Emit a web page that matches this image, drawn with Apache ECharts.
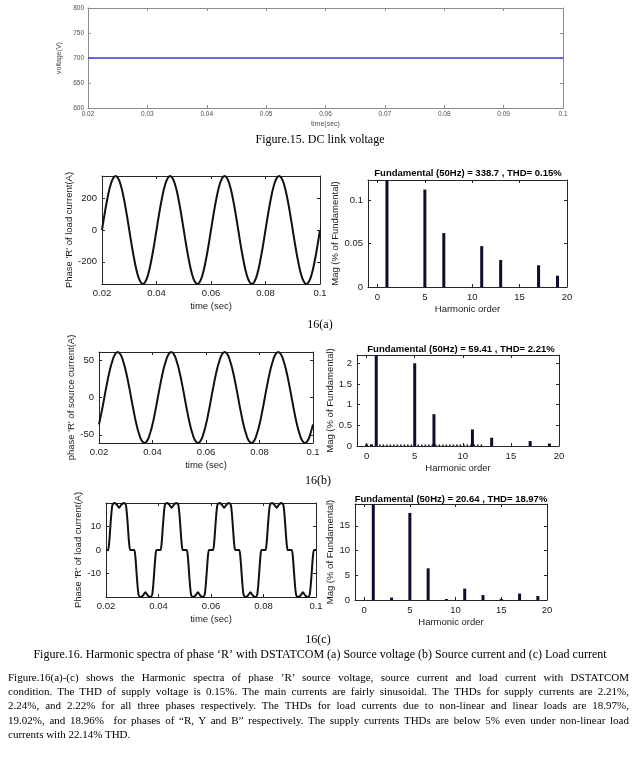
<!DOCTYPE html>
<html><head><meta charset="utf-8">
<script src="https://cdn.jsdelivr.net/npm/echarts@6/dist/echarts.min.js"></script>
<style>
html,body{margin:0;padding:0;background:#fff;}
#c{position:absolute;left:0;top:0;width:642px;height:757px;}
#p{position:absolute;left:8px;top:670px;width:621px;font-family:'Liberation Serif','Times New Roman',serif;font-size:11px;line-height:14.2px;color:#000;}
#p div{text-align:justify;text-align-last:justify;white-space:normal;}
#p div.last{text-align-last:left;}
</style>
</head><body>
<div id="c"></div>
<div id="p">
<div>Figure.16(a)-(c) shows the Harmonic spectra of phase ’R’ source voltage, source current and load current with DSTATCOM</div>
<div>condition. The THD of supply voltage is 0.15%. The main currents are fairly sinusoidal. The THDs for supply currents are 2.21%,</div>
<div>2.24%, and 2.22% for all three phases respectively. The THDs for load currents due to non-linear and linear loads are 18.97%,</div>
<div>19.02%, and 18.96%&nbsp; for phases of “R, Y and B” respectively. The supply currents THDs are below 5% even under non-linear load</div>
<div class="last">currents with 22.14% THD.</div>
</div>
<script>
// ---------------- DATA ----------------
// Figure 15: DC link voltage
const dcTime = [0.02, 0.03, 0.04, 0.05, 0.06, 0.07, 0.08, 0.09, 0.1];
const dcVoltage = [700, 700, 700, 700, 700, 700, 700, 700, 700];
const dcXTicks = [0.02, 0.03, 0.04, 0.05, 0.06, 0.07, 0.08, 0.09, 0.1];
const dcXLabels = ['0.02', '0.03', '0.04', '0.05', '0.06', '0.07', '0.08', '0.09', '0.1'];
const dcYTicks = [600, 650, 700, 750, 800];
const dcYLabels = ['600', '650', '700', '750', '800'];

// Time samples for the sinusoidal waveforms (a) and (b)
const timeAB = [
0.020,0.021,0.022,0.023,0.024,0.025,0.026,0.027,0.028,0.029,
0.030,0.031,0.032,0.033,0.034,0.035,0.036,0.037,0.038,0.039,
0.040,0.041,0.042,0.043,0.044,0.045,0.046,0.047,0.048,0.049,
0.050,0.051,0.052,0.053,0.054,0.055,0.056,0.057,0.058,0.059,
0.060,0.061,0.062,0.063,0.064,0.065,0.066,0.067,0.068,0.069,
0.070,0.071,0.072,0.073,0.074,0.075,0.076,0.077,0.078,0.079,
0.080,0.081,0.082,0.083,0.084,0.085,0.086,0.087,0.088,0.089,
0.090,0.091,0.092,0.093,0.094,0.095,0.096,0.097,0.098,0.099,
0.100];
// 16(a) phase R load current (A)
const loadCurrentA = [
0,105,199,274,322,339,322,274,199,105,0,-105,-199,-274,-322,-339,-322,-274,-199,-105,
0,105,199,274,322,339,322,274,199,105,0,-105,-199,-274,-322,-339,-322,-274,-199,-105,
0,105,199,274,322,339,322,274,199,105,0,-105,-199,-274,-322,-339,-322,-274,-199,-105,
0,105,199,274,322,339,322,274,199,105,0,-105,-199,-274,-322,-339,-322,-274,-199,-105,
0];
// 16(b) phase R source current (A)
const sourceCurrentB = [
-36,-19,0,19,36,49,58,61,58,49,36,19,0,-19,-36,-49,-58,-61,-58,-49,
-36,-19,0,19,36,49,58,61,58,49,36,19,0,-19,-36,-49,-58,-61,-58,-49,
-36,-19,0,19,36,49,58,61,58,49,36,19,0,-19,-36,-49,-58,-61,-58,-49,
-36,-19,0,19,36,49,58,61,58,49,36,19,0,-19,-36,-49,-58,-61,-58,-49,
-36];
// 16(c) phase R load current (A), non-sinusoidal
const timeC = [
0.0200,0.0208,0.0212,0.0216,0.0220,0.0224,0.0228,0.0234,0.0242,0.0250,0.0258,0.0266,0.0272,0.0276,0.0280,0.0284,0.0288,0.0292,
0.0300,0.0308,0.0312,0.0316,0.0320,0.0324,0.0328,0.0334,0.0342,0.0350,0.0358,0.0366,0.0372,0.0376,0.0380,0.0384,0.0388,0.0392,
0.0400,0.0408,0.0412,0.0416,0.0420,0.0424,0.0428,0.0434,0.0442,0.0450,0.0458,0.0466,0.0472,0.0476,0.0480,0.0484,0.0488,0.0492,
0.0500,0.0508,0.0512,0.0516,0.0520,0.0524,0.0528,0.0534,0.0542,0.0550,0.0558,0.0566,0.0572,0.0576,0.0580,0.0584,0.0588,0.0592,
0.0600,0.0608,0.0612,0.0616,0.0620,0.0624,0.0628,0.0634,0.0642,0.0650,0.0658,0.0666,0.0672,0.0676,0.0680,0.0684,0.0688,0.0692,
0.0700,0.0708,0.0712,0.0716,0.0720,0.0724,0.0728,0.0734,0.0742,0.0750,0.0758,0.0766,0.0772,0.0776,0.0780,0.0784,0.0788,0.0792,
0.0800,0.0808,0.0812,0.0816,0.0820,0.0824,0.0828,0.0834,0.0842,0.0850,0.0858,0.0866,0.0872,0.0876,0.0880,0.0884,0.0888,0.0892,
0.0900,0.0908,0.0912,0.0916,0.0920,0.0924,0.0928,0.0934,0.0942,0.0950,0.0958,0.0966,0.0972,0.0976,0.0980,0.0984,0.0988,0.0992,
0.1000];
const loadCurrentC = [
0,0,3,9,15,19,19.8,20,19.2,18,19.2,20,19.8,19,15,9,3,0,
0,0,-3,-9,-15,-19,-19.8,-20,-19.2,-18,-19.2,-20,-19.8,-19,-15,-9,-3,0,
0,0,3,9,15,19,19.8,20,19.2,18,19.2,20,19.8,19,15,9,3,0,
0,0,-3,-9,-15,-19,-19.8,-20,-19.2,-18,-19.2,-20,-19.8,-19,-15,-9,-3,0,
0,0,3,9,15,19,19.8,20,19.2,18,19.2,20,19.8,19,15,9,3,0,
0,0,-3,-9,-15,-19,-19.8,-20,-19.2,-18,-19.2,-20,-19.8,-19,-15,-9,-3,0,
0,0,3,9,15,19,19.8,20,19.2,18,19.2,20,19.8,19,15,9,3,0,
0,0,-3,-9,-15,-19,-19.8,-20,-19.2,-18,-19.2,-20,-19.8,-19,-15,-9,-3,0,
0];
const waveXTicks = [0.02, 0.04, 0.06, 0.08, 0.1];
const waveXLabels = ['0.02', '0.04', '0.06', '0.08', '0.1'];
const aYTicks = [-200, 0, 200];
const aYLabels = ['-200', '0', '200'];
const bYTicks = [-50, 0, 50];
const bYLabels = ['-50', '0', '50'];
const cYTicks = [-10, 0, 10];
const cYLabels = ['-10', '0', '10'];

// Harmonic spectra (% of fundamental); fundamental = 100 is clipped by the axis
const harmOrderA = [1, 5, 7, 11, 13, 17, 19];
const harmMagA = [100, 0.112, 0.062, 0.047, 0.031, 0.025, 0.013];
const harmOrderB = [0, 0.5, 1, 5, 7, 11, 13, 17, 19];
const harmMagB = [0.04, 0.04, 100, 2.0, 0.77, 0.4, 0.2, 0.12, 0.06];
const floorOrderB = [1.3, 12.2];
const floorMagB = [0.02, 0.02];
const harmOrderC = [1, 3, 5, 7, 9, 11, 13, 15, 17, 19];
const harmMagC = [100, 0.5, 17.6, 6.4, 0.2, 2.3, 1.0, 0.2, 1.3, 0.8];
const harmXTicks = [0, 5, 10, 15, 20];
const harmXLabels = ['0', '5', '10', '15', '20'];
const aMagTicks = [0, 0.05, 0.1];
const aMagLabels = ['0', '0.05', '0.1'];
const bMagTicks = [0, 0.5, 1, 1.5, 2];
const bMagLabels = ['0', '0.5', '1', '1.5', '2'];
const cMagTicks = [0, 5, 10, 15];
const cMagLabels = ['0', '5', '10', '15'];

const titleA = 'Fundamental (50Hz) = 338.7 , THD= 0.15%';
const titleB = 'Fundamental (50Hz) = 59.41 , THD= 2.21%';
const titleC = 'Fundamental (50Hz) = 20.64 , THD= 18.97%';

// ---------------- BUILD ----------------
const SANS = "'Liberation Sans', Arial, sans-serif";
const SERIF = "'Liberation Serif', 'Times New Roman', serif";
const grids = [], xAxes = [], yAxes = [], series = [];

function lab(ticks, labels) {
  return function (v) {
    for (let i = 0; i < ticks.length; i++) if (Math.abs(ticks[i] - v) < 1e-9) return labels[i];
    return '';
  };
}

function box(rect, o) {
  const gi = grids.length;
  grids.push({left: rect.left, top: rect.top, width: rect.width, height: rect.height});
  const lc = o.lineColor, lw = o.lineWidth;
  const line = {show: true, onZero: false, lineStyle: {color: lc, width: lw}};
  const tick = (vals) => ({show: true, inside: true, length: o.tickLen, customValues: vals, lineStyle: {color: lc, width: lw}});
  const nts = {fontFamily: SANS, fontSize: o.nameSize, color: o.textColor};
  const xi = xAxes.length;
  xAxes.push({gridIndex: gi, type: 'value', position: 'bottom', min: o.xMin, max: o.xMax,
    axisLine: line, axisTick: tick(o.xTicks), splitLine: {show: false},
    axisLabel: {show: true, customValues: o.xTicks, formatter: lab(o.xTicks, o.xLabels), fontFamily: SANS, fontSize: o.labelSize, color: o.textColor, margin: o.xMargin},
    name: o.xName, nameLocation: 'middle', nameGap: o.xNameGap, nameTextStyle: nts});
  xAxes.push({gridIndex: gi, type: 'value', position: 'top', min: o.xMin, max: o.xMax,
    axisLine: line, axisTick: tick(o.xTicks), axisLabel: {show: false}, splitLine: {show: false}});
  const yi = yAxes.length;
  yAxes.push({gridIndex: gi, type: 'value', position: 'left', min: o.yMin, max: o.yMax,
    axisLine: line, axisTick: tick(o.yTicks), splitLine: {show: false},
    axisLabel: {show: true, customValues: o.yTicks, formatter: lab(o.yTicks, o.yLabels), fontFamily: SANS, fontSize: o.labelSize, color: o.textColor, margin: o.yMargin},
    name: o.yName, nameLocation: 'middle', nameRotate: 90, nameGap: o.yNameGap, nameTextStyle: nts});
  yAxes.push({gridIndex: gi, type: 'value', position: 'right', min: o.yMin, max: o.yMax,
    axisLine: line, axisTick: tick(o.yTicks), axisLabel: {show: false}, splitLine: {show: false}});
  return {xi, yi};
}

const matlab = {lineColor: '#262626', lineWidth: 1, tickLen: 3, textColor: '#1a1a1a', labelSize: 9.5, nameSize: 9.5, xMargin: 4, yMargin: 5, xNameGap: 17};

// Figure 15
const dc = box({left: 88, top: 8, width: 475, height: 100}, {
  lineColor: '#8c8c8c', lineWidth: 1, tickLen: 3, textColor: '#4d4d4d', labelSize: 6.5, nameSize: 7,
  xMin: 0.02, xMax: 0.1, xTicks: dcXTicks, xLabels: dcXLabels, xMargin: 3, xName: 'time(sec)', xNameGap: 13,
  yMin: 600, yMax: 800, yTicks: dcYTicks, yLabels: dcYLabels, yMargin: 4, yName: 'voltage(V)', yNameGap: 18});
series.push({type: 'line', xAxisIndex: dc.xi, yAxisIndex: dc.yi, symbol: 'none',
  data: dcTime.map((t, i) => [t, dcVoltage[i]]), lineStyle: {color: '#3c3cdc', width: 1.5}});

// 16(a)
const aL = box({left: 102, top: 176, width: 218, height: 108}, Object.assign({}, matlab, {
  xMin: 0.02, xMax: 0.1, xTicks: waveXTicks, xLabels: waveXLabels, xName: 'time (sec)',
  yMin: -339, yMax: 339, yTicks: aYTicks, yLabels: aYLabels, yName: "Phase 'R' of load current(A)", yNameGap: 28}));
series.push({type: 'line', xAxisIndex: aL.xi, yAxisIndex: aL.yi, symbol: 'none', smooth: 0.5, clip: true,
  data: timeAB.map((t, i) => [t, loadCurrentA[i]]), lineStyle: {color: '#111', width: 2}});
const aR = box({left: 368, top: 180, width: 199, height: 107}, Object.assign({}, matlab, {
  xMin: -1, xMax: 20, xTicks: harmXTicks, xLabels: harmXLabels, xName: 'Harmonic order', xMargin: 5, xNameGap: 17,
  yMin: 0, yMax: 0.123, yTicks: aMagTicks, yLabels: aMagLabels, yName: 'Mag (% of Fundamental)', yNameGap: 28}));
series.push({type: 'bar', xAxisIndex: aR.xi, yAxisIndex: aR.yi, barWidth: 3, clip: true,
  data: harmOrderA.map((h, i) => [h, harmMagA[i]]), itemStyle: {color: '#0d0d2e'}});

// 16(b)
const bL = box({left: 99, top: 352, width: 214, height: 91}, Object.assign({}, matlab, {
  xMin: 0.02, xMax: 0.1, xTicks: waveXTicks, xLabels: waveXLabels, xName: 'time (sec)',
  yMin: -61, yMax: 61, yTicks: bYTicks, yLabels: bYLabels, yName: "phase 'R' of source current(A)", yNameGap: 22}));
series.push({type: 'line', xAxisIndex: bL.xi, yAxisIndex: bL.yi, symbol: 'none', smooth: 0.5, clip: true,
  data: timeAB.map((t, i) => [t, sourceCurrentB[i]]), lineStyle: {color: '#111', width: 2}});
const bR = box({left: 357, top: 355, width: 202, height: 91}, Object.assign({}, matlab, {
  xMin: -1, xMax: 20, xTicks: harmXTicks, xLabels: harmXLabels, xName: 'Harmonic order', xMargin: 5, xNameGap: 17,
  yMin: 0, yMax: 2.2, yTicks: bMagTicks, yLabels: bMagLabels, yName: 'Mag (% of Fundamental)', yNameGap: 20}));
series.push({type: 'bar', xAxisIndex: bR.xi, yAxisIndex: bR.yi, barWidth: 3, clip: true,
  data: harmOrderB.map((h, i) => [h, harmMagB[i]]), itemStyle: {color: '#0d0d2e'}});
series.push({type: 'line', xAxisIndex: bR.xi, yAxisIndex: bR.yi, symbol: 'none',
  data: floorOrderB.map((h, i) => [h, floorMagB[i]]), lineStyle: {color: '#0d0d2e', width: 1.5, type: [1.5, 2]}});

// 16(c)
const cL = box({left: 106, top: 503, width: 210, height: 94}, Object.assign({}, matlab, {
  xMin: 0.02, xMax: 0.1, xTicks: waveXTicks, xLabels: waveXLabels, xName: 'time (sec)',
  yMin: -20, yMax: 20, yTicks: cYTicks, yLabels: cYLabels, yName: "Phase 'R' of load current(A)", yNameGap: 20}));
series.push({type: 'line', xAxisIndex: cL.xi, yAxisIndex: cL.yi, symbol: 'none', smooth: 0.2, clip: true,
  data: timeC.map((t, i) => [t, loadCurrentC[i]]), lineStyle: {color: '#111', width: 2}});
const cR = box({left: 355, top: 504, width: 192, height: 96}, Object.assign({}, matlab, {
  xMin: -1, xMax: 20, xTicks: harmXTicks, xLabels: harmXLabels, xName: 'Harmonic order', xMargin: 5, xNameGap: 17,
  yMin: 0, yMax: 19.4, yTicks: cMagTicks, yLabels: cMagLabels, yName: 'Mag (% of Fundamental)', yNameGap: 18}));
series.push({type: 'bar', xAxisIndex: cR.xi, yAxisIndex: cR.yi, barWidth: 3, clip: true,
  data: harmOrderC.map((h, i) => [h, harmMagC[i]]), itemStyle: {color: '#0d0d2e'}});

function txt(s, x, y, font, size, weight) {
  return {type: 'text', silent: true, style: {text: s, x: x, y: y, align: 'center', verticalAlign: 'middle',
    fontFamily: font, fontSize: size, fontWeight: weight || 'normal', fill: '#000'}};
}
const graphics = [
  txt('Figure.15. DC link voltage', 320, 140, SERIF, 12),
  txt(titleA, 468, 173, SANS, 9.5, 'bold'),
  txt(titleB, 461, 349, SANS, 9.5, 'bold'),
  txt(titleC, 451, 499, SANS, 9.5, 'bold'),
  txt('16(a)', 320, 325, SERIF, 12),
  txt('16(b)', 318, 481, SERIF, 12),
  txt('16(c)', 318, 640, SERIF, 12),
  txt('Figure.16. Harmonic spectra of phase ‘R’ with DSTATCOM (a) Source voltage (b) Source current and (c) Load current', 320, 655, SERIF, 12)
];

const chart = echarts.init(document.getElementById('c'), null, {renderer: 'canvas'});
chart.setOption({
  animation: false,
  backgroundColor: '#fff',
  grid: grids, xAxis: xAxes, yAxis: yAxes, series: series,
  graphic: graphics
});
</script>
</body></html>
